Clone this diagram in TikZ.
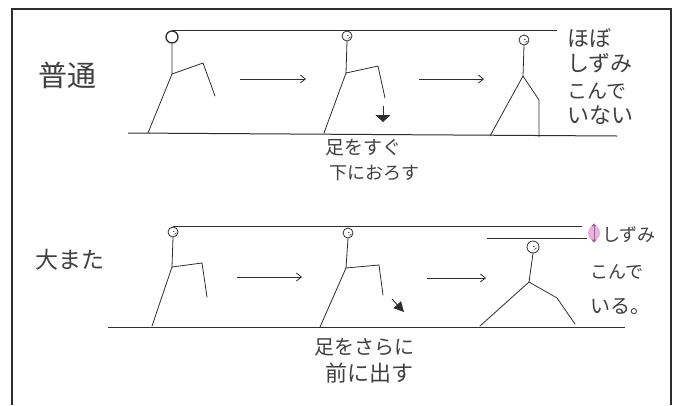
\documentclass[tikz,border=0pt]{standalone}
\usepackage{fontspec}
\newfontfamily\jp{Noto Sans CJK JP}
\usetikzlibrary{arrows.meta,shapes.geometric}
\definecolor{pencil}{HTML}{2E2E2E}
\definecolor{ink}{HTML}{404040}
\definecolor{blush}{HTML}{EAB0DE}
\definecolor{plum}{HTML}{9A6A96}
\begin{document}
\begin{tikzpicture}[x=1pt,y=-1pt,
  limb/.style={draw=pencil,line width=0.8pt,line join=round,line cap=round},
  rule/.style={draw=pencil,line width=1pt},
  head/.style={draw=pencil,line width=0.8pt,circle,minimum size=10pt,inner sep=0pt},
  bighead/.style={head,line width=1.3pt,minimum size=12pt},
  flow/.style={draw=pencil,line width=0.8pt,-{Straight Barb[length=5pt,width=8pt]}},
  hand/.style={font=\jp, text=ink, inner sep=0pt},
  face/.pic={\fill[pencil] (0.8,-0.5) circle (0.7pt);
             \draw[pencil,line width=0.5pt] (0.5,2) arc[start angle=250,end angle=330,radius=2.5pt];}
]
\useasboundingbox (0,0) rectangle (677,405);
\fill[white] (0,0) rectangle (677,405);

% frame
\draw[pencil,line width=1.4pt] (12,405) -- (12,9) -- (671,9) -- (671,405);

% row labels
\node[hand,font=\jp\fontsize{29}{31}\selectfont] (lblA) at (67,75) {普通};
\node[hand,font=\jp\fontsize{23}{25}\selectfont] (lblB) at (70,260) {大また};

% ---------- row 1: ordinary stride ----------
\coordinate (topA0) at (172,30);
\coordinate (topA1) at (557,30);
\coordinate (gndA0) at (128,133);
\coordinate (gndA1) at (617,136);
\draw[rule] (topA0) -- (topA1);
\draw[rule] (gndA0) -- (gndA1);

% figure 1
\node[bighead] (a1h) at (172,37) {};
\coordinate (a1hip) at (172,74);
\coordinate (a1knee) at (203,63);
\coordinate (a1foot) at (215,96);
\coordinate (a1base) at (148,133);
\draw[limb] (a1h.south) -- (a1hip) -- (a1knee) -- (a1foot);
\draw[limb] (a1hip) -- (a1base);

% figure 2
\node[head] (a2h) at (347,36) {};
\pic at (a2h.center) {face};
\coordinate (a2hip) at (346,73);
\coordinate (a2knee) at (378,66);
\coordinate (a2foot) at (385,98);
\coordinate (a2base) at (324,133);
\draw[limb] (a2h.south) -- (a2hip) -- (a2knee) -- (a2foot);
\draw[limb] (a2hip) -- (a2base);
\coordinate (a2d0) at (383,106);
\coordinate (a2d1) at (383,122);
\draw[pencil,line width=0.9pt,-{Triangle[length=7pt,width=15pt]}] (a2d0) -- (a2d1);

% figure 3
\node[head] (a3h) at (524,40) {};
\pic at (a3h.center) {face};
\coordinate (a3hip) at (523,76);
\coordinate (a3left) at (490,136);
\coordinate (a3knee) at (539,100);
\coordinate (a3foot) at (539,137);
\draw[limb] (a3h.south) -- (a3hip) -- (a3left);
\draw[limb] (a3hip) -- (a3knee) -- (a3foot);

% arrows between poses
\coordinate (fA1s) at (240,79); \coordinate (fA1e) at (306,79);
\coordinate (fA2s) at (419,79); \coordinate (fA2e) at (484,79);
\draw[flow] (fA1s) -- (fA1e);
\draw[flow] (fA2s) -- (fA2e);

% notes, row 1
\node[hand,anchor=west,font=\jp\fontsize{19}{21}\selectfont] (nA1) at (325,148) {足をすぐ};
\node[hand,anchor=west,font=\jp\fontsize{18}{20}\selectfont] (nA2) at (329,173) {下におろす};
\node[hand,anchor=west,font=\jp\fontsize{22}{24}\selectfont] (rA1) at (567,38) {ほぼ};
\node[hand,anchor=west,font=\jp\fontsize{22}{24}\selectfont] (rA2) at (567,63) {しずみ};
\node[hand,anchor=west,font=\jp\fontsize{20}{22}\selectfont] (rA3) at (567,91) {こんで};
\node[hand,anchor=west,font=\jp\fontsize{22}{24}\selectfont] (rA4) at (567,115) {いない};

% ---------- row 2: long stride ----------
\coordinate (topB0) at (173,226);
\coordinate (topB1) at (582,226);
\coordinate (lowB0) at (487,238);
\coordinate (lowB1) at (587,238);
\coordinate (gndB0) at (108,327);
\coordinate (gndB1) at (625,327);
\draw[rule] (topB0) -- (topB1);
\draw[rule] (lowB0) -- (lowB1);
\draw[rule] (gndB0) -- (gndB1);

% figure 1
\node[head] (b1h) at (173,232) {};
\pic at (b1h.center) {face};
\coordinate (b1hip) at (172,267);
\coordinate (b1knee) at (202,263);
\coordinate (b1foot) at (207,297);
\coordinate (b1base) at (152,326);
\draw[limb] (b1h.south) -- (b1hip) -- (b1knee) -- (b1foot);
\draw[limb] (b1hip) -- (b1base);

% figure 2
\node[head] (b2h) at (348,233) {};
\pic at (b2h.center) {face};
\coordinate (b2hip) at (346,268);
\coordinate (b2knee) at (379,265);
\coordinate (b2foot) at (383,295);
\coordinate (b2base) at (320,327);
\draw[limb] (b2h.south) -- (b2hip) -- (b2knee) -- (b2foot);
\draw[limb] (b2hip) -- (b2base);
\coordinate (b2d0) at (392,299);
\coordinate (b2d1) at (404,312);
\draw[pencil,line width=0.9pt,-{Triangle[length=10pt,width=10pt]}] (b2d0) -- (b2d1);

% figure 3
\node[head,minimum size=12pt] (b3h) at (533,247) {};
\pic at (b3h.center) {face};
\coordinate (b3hip) at (529,282);
\coordinate (b3left) at (480,326);
\coordinate (b3knee) at (557,298);
\coordinate (b3foot) at (575,324);
\draw[limb] (b3h.south) -- (b3hip) -- (b3left);
\draw[limb] (b3hip) -- (b3knee) -- (b3foot);

% arrows between poses
\coordinate (fB1s) at (237,277); \coordinate (fB1e) at (302,277);
\coordinate (fB2s) at (427,278); \coordinate (fB2e) at (486,278);
\draw[flow] (fB1s) -- (fB1e);
\draw[flow] (fB2s) -- (fB2e);

% sink marker
\node[ellipse,fill=blush,minimum width=12pt,minimum height=15pt,inner sep=0pt] (sink) at (594,233) {};
\draw[plum,line width=0.6pt,{Triangle[length=3pt,width=5pt]}-{Triangle[length=3pt,width=5pt]}] ([yshift=2pt]sink.north) -- ([yshift=-2pt]sink.south);

% notes, row 2
\node[hand,font=\jp\fontsize{20}{22}\selectfont] (nB1) at (364,347) {足をさらに};
\node[hand,font=\jp\fontsize{22}{24}\selectfont] (nB2) at (369,373) {前に出す};
\node[hand,anchor=west,font=\jp\fontsize{18}{20}\selectfont] (rB1) at (602,235) {しずみ};
\node[hand,anchor=west,font=\jp\fontsize{18}{20}\selectfont] (rB2) at (590,272) {こんで};
\node[hand,anchor=west,font=\jp\fontsize{20}{22}\selectfont] (rB3) at (590,307) {いる。};
\end{tikzpicture}
\end{document}
